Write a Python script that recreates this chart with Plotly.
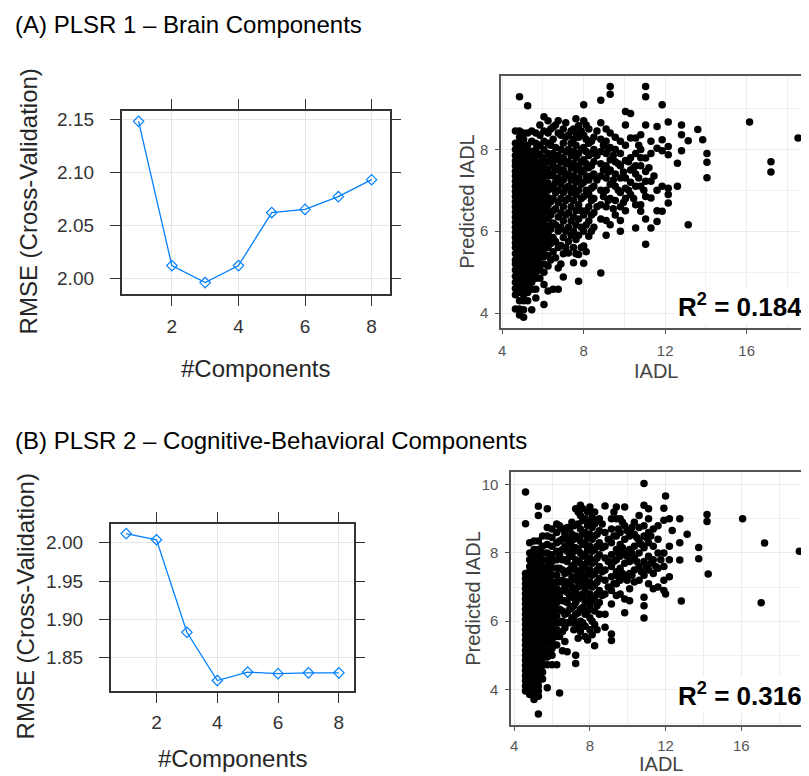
import plotly.graph_objects as go

components = [1, 2, 3, 4, 5, 6, 7, 8]
rmse_brain = [2.148, 2.012, 1.996, 2.012, 2.062, 2.065, 2.077, 2.093]
rmse_cog = [2.012, 2.004, 1.883, 1.820, 1.831, 1.829, 1.830, 1.830]

# observed IADL (one entry per column of points) and predicted IADL read for that column
iadl_brain = [4.65, 4.85, 5.05, 5.25, 5.45, 5.65, 5.85, 6.05, 6.25, 6.5, 6.75, 7.0, 7.25, 7.5,
              7.75, 8.0, 8.25, 8.5, 8.84, 9.1, 9.3, 9.55, 9.8, 10.05, 10.3, 10.55, 10.8, 11.04,
              11.3, 11.6, 11.85, 12.15, 12.6, 12.8, 13.13, 13.6, 13.84, 14.05, 16.14, 17.19, 18.52,
              6.38, 6.62, 6.88, 7.12, 7.38, 7.62, 7.88, 8.12, 8.38, 8.65, 8.97, 9.2, 9.45, 9.7,
              9.95, 10.2, 10.45, 10.7, 10.95, 11.2, 11.45]
pred_brain = [
    [4.1, 4.45, 4.6, 4.75, 4.9, 5.05, 5.2, 5.3, 5.45, 5.6, 5.72, 5.85, 5.97, 6.1, 6.22, 6.35, 6.47,
     6.6, 6.72, 6.85, 6.97, 7.1, 7.22, 7.35, 7.47, 7.6, 7.72, 7.85, 8.0, 8.15, 8.45],
    [3.95, 4.1, 4.3, 4.5, 4.62, 4.75, 4.88, 5.0, 5.12, 5.25, 5.38, 5.5, 5.62, 5.75, 5.88, 6.0, 6.12,
     6.25, 6.38, 6.5, 6.62, 6.75, 6.88, 7.0, 7.12, 7.25, 7.38, 7.5, 7.62, 7.75, 7.88, 8.0, 8.15, 8.3,
     8.45, 9.29],
    [3.9, 4.08, 4.3, 4.45, 4.58, 4.7, 4.82, 4.95, 5.08, 5.2, 5.32, 5.45, 5.58, 5.7, 5.82, 5.95, 6.08,
     6.2, 6.32, 6.45, 6.58, 6.7, 6.82, 6.95, 7.08, 7.2, 7.32, 7.45, 7.58, 7.7, 7.82, 7.95, 8.1, 8.25, 8.4],
    [4.3, 4.5, 4.65, 4.8, 4.92, 5.05, 5.18, 5.3, 5.42, 5.55, 5.68, 5.8, 5.92, 6.05, 6.18, 6.3, 6.42,
     6.55, 6.68, 6.8, 6.92, 7.05, 7.18, 7.3, 7.42, 7.55, 7.68, 7.8, 7.95, 8.1, 8.4, 9.07],
    [4.08, 4.58, 4.75, 4.9, 5.02, 5.15, 5.28, 5.4, 5.52, 5.65, 5.78, 5.9, 6.02, 6.15, 6.28, 6.4, 6.52,
     6.65, 6.78, 6.9, 7.02, 7.15, 7.28, 7.4, 7.52, 7.65, 7.8, 7.95, 8.2, 8.45],
    [4.37, 4.58, 4.85, 5.0, 5.15, 5.3, 5.42, 5.55, 5.68, 5.8, 5.92, 6.05, 6.18, 6.3, 6.42, 6.55, 6.68,
     6.8, 6.92, 7.05, 7.18, 7.3, 7.42, 7.55, 7.7, 7.85, 8.0, 8.15, 8.4],
    [4.85, 5.05, 5.2, 5.35, 5.5, 5.62, 5.75, 5.88, 6.0, 6.12, 6.25, 6.38, 6.5, 6.62, 6.75, 6.88, 7.0,
     7.12, 7.25, 7.4, 7.55, 7.7, 7.88, 8.1, 8.35, 8.6],
    [4.21, 4.7, 5.0, 5.2, 5.38, 5.55, 5.7, 5.85, 6.0, 6.15, 6.3, 6.45, 6.6, 6.75, 6.9, 7.05, 7.2, 7.35,
     7.5, 7.65, 7.8, 8.0, 8.2, 8.45, 8.8],
    [4.54, 5.15, 5.4, 5.6, 5.78, 5.95, 6.12, 6.3, 6.48, 6.65, 6.82, 7.0, 7.18, 7.35, 7.52, 7.7, 7.9,
     8.15, 8.4, 8.7],
    [4.58, 5.5, 5.85, 6.2, 6.5, 6.8, 7.1, 7.35, 7.6, 7.9, 8.25, 8.55],
    [4.58, 5.1, 5.6, 6.0, 6.35, 6.7, 7.0, 7.3, 7.55, 7.85, 8.4, 8.7],
    [4.88, 5.45, 5.85, 6.25, 6.6, 6.95, 7.25, 7.5, 7.8, 8.15, 8.5],
    [5.47, 5.75, 6.1, 6.45, 6.8, 7.1, 7.4, 7.7, 8.0, 8.35],
    [5.23, 5.6, 6.0, 6.35, 6.75, 7.05, 7.35, 7.65, 7.95, 8.25, 8.5],
    [4.78, 5.43, 5.9, 6.3, 6.65, 7.0, 7.3, 7.6, 7.9, 8.3, 8.58],
    [5.22, 5.64, 6.0, 6.4, 6.85, 7.2, 7.5, 7.75, 8.05, 8.35, 8.7, 9.09],
    [5.88, 6.25, 6.6, 6.9, 7.25, 7.55, 7.85, 8.15, 8.5],
    [6.1, 6.45, 6.8, 7.1, 7.4, 7.7, 8.0, 8.3],
    [4.98, 6.3, 6.65, 7.0, 7.35, 7.65, 7.95, 8.25, 8.65, 9.2],
    [5.9, 6.26, 6.6, 7.0, 7.3, 7.6, 7.9, 8.2, 8.5],
    [6.16, 6.8, 7.15, 7.5, 7.75, 8.05, 8.4, 9.35, 9.54],
    [6.4, 6.75, 7.1, 7.4, 7.7, 8.0, 8.3],
    [6.0, 6.26, 6.6, 6.95, 7.3, 7.6, 7.9, 8.2],
    [6.5, 6.8, 7.05, 7.3, 7.73, 8.1, 8.6, 8.93],
    [6.9, 7.2, 7.5, 7.8, 8.28, 8.88],
    [6.08, 6.65, 7.1, 7.4, 7.6, 7.9, 8.28],
    [6.49, 6.65, 7.1, 7.6, 7.8, 8.0, 8.36],
    [5.68, 6.3, 6.85, 7.22, 7.46, 7.79, 8.6, 9.29, 9.54],
    [6.08, 6.81, 7.22, 7.9, 8.2],
    [6.24, 6.5, 7.0, 8.03, 8.56],
    [6.49, 7.1, 7.97, 8.24, 9.09],
    [6.69, 6.9, 7.05, 7.87, 8.07, 8.67],
    [7.1, 7.66],
    [7.97, 8.36, 8.6],
    [6.16, 8.21],
    [8.49],
    [8.24],
    [7.31, 7.69, 7.9],
    [8.67],
    [7.45, 7.70],
    [8.28],
    [5.3, 5.7, 6.05, 6.4, 6.72, 7.05, 7.4, 7.75, 8.1, 8.5],
    [5.35, 5.75, 6.15, 6.55, 6.95, 7.2, 7.5, 7.75, 8.05, 8.6],
    [5.2, 5.65, 6.1, 6.45, 6.8, 7.15, 7.45, 7.7, 8.0, 8.35],
    [5.6, 6.0, 6.4, 6.75, 7.05, 7.35, 7.65, 7.95, 8.3, 8.65],
    [5.9, 6.25, 6.6, 6.95, 7.25, 7.55, 7.85, 8.15, 8.45],
    [5.45, 5.8, 6.15, 6.5, 6.9, 7.2, 7.5, 7.8, 8.1, 8.4, 8.75],
    [5.6, 6.1, 6.5, 6.8, 7.15, 7.45, 7.7, 8.0, 8.45],
    [5.5, 6.15, 6.5, 7.0, 7.35, 7.65, 7.95, 8.25, 8.6],
    [6.0, 6.4, 6.75, 7.05, 7.35, 7.6, 7.9, 8.2],
    [6.6, 7.25, 7.85, 8.45],
    [6.85, 7.5, 8.1],
    [6.75, 7.45, 8.0],
    [6.55, 7.25, 7.85],
    [7.0, 7.65],
    [6.7, 7.45],
    [7.0, 7.7],
    [6.8, 7.55],
    [7.3, 8.1],
    [7.0],
    [7.55],
    [7.35],
]

iadl_cog = [4.6, 4.82, 5.05, 5.28, 5.5, 5.75, 6.0, 6.25, 6.4, 6.55, 6.8, 7.05, 7.25, 7.5, 7.75,
            8.0, 8.25, 8.5, 8.8, 9.14, 9.4, 9.6, 9.84, 10.1, 10.35, 10.6, 10.86, 11.1, 11.35,
            11.6, 11.91, 12.0, 12.2, 12.35, 12.75, 12.83, 13.14, 13.75, 14.19, 14.25, 16.07,
            17.05, 17.23, 19.07,
            6.68, 6.93, 7.15, 7.38, 7.62, 7.88, 8.12, 8.38, 8.65, 8.97, 9.27, 9.5, 9.72, 9.97,
            10.22, 10.48, 10.72, 10.98, 11.22, 11.48, 11.75]
pred_cog = [
    [3.95, 4.1, 4.25, 4.4, 4.55, 4.7, 4.85, 5.0, 5.15, 5.3, 5.45, 5.6, 5.75, 5.9, 6.05, 6.2, 6.35,
     6.5, 6.65, 6.8, 6.95, 7.1, 7.25, 7.4, 8.86, 9.79],
    [3.85, 4.0, 4.15, 4.3, 4.45, 4.6, 4.75, 4.9, 5.05, 5.2, 5.35, 5.5, 5.65, 5.8, 5.95, 6.1, 6.25,
     6.4, 6.55, 6.7, 6.85, 7.0, 7.15, 7.3, 7.45, 7.6, 7.8, 8.0, 8.3],
    [3.7, 3.85, 4.0, 4.15, 4.3, 4.45, 4.6, 4.75, 4.9, 5.05, 5.2, 5.35, 5.5, 5.65, 5.8, 5.95, 6.1,
     6.25, 6.4, 6.55, 6.7, 6.85, 7.0, 7.15, 7.3, 7.45, 7.6, 7.75, 7.9, 8.1, 8.35],
    [3.28, 3.8, 3.95, 4.1, 4.25, 4.4, 4.55, 4.7, 4.85, 5.0, 5.15, 5.3, 5.45, 5.6, 5.75, 5.9, 6.05,
     6.2, 6.35, 6.5, 6.65, 6.8, 6.95, 7.1, 7.25, 7.4, 7.55, 7.7, 7.9, 8.1, 8.35, 9.1, 9.37],
    [4.3, 4.5, 4.7, 4.9, 5.05, 5.2, 5.35, 5.5, 5.65, 5.8, 5.95, 6.1, 6.25, 6.4, 6.55, 6.7, 6.85,
     7.0, 7.15, 7.3, 7.45, 7.6, 7.8, 8.0, 8.2, 8.5],
    [4.05, 4.72, 4.95, 5.15, 5.35, 5.5, 5.65, 5.8, 5.95, 6.1, 6.25, 6.4, 6.55, 6.7, 6.85, 7.0, 7.15,
     7.3, 7.45, 7.6, 7.8, 8.0, 8.25, 8.5, 8.75, 9.3],
    [4.72, 5.0, 5.2, 5.4, 5.6, 5.8, 5.95, 6.1, 6.25, 6.4, 6.55, 6.7, 6.85, 7.0, 7.15, 7.35, 7.55,
     7.75, 7.95, 8.2, 8.45, 8.7],
    [4.72, 5.3, 5.55, 5.75, 5.95, 6.15, 6.35, 6.55, 6.75, 6.95, 7.15, 7.35, 7.55, 7.8, 8.05, 8.3,
     8.6, 8.85],
    [3.89, 5.55, 5.95, 6.35, 6.75, 7.15, 7.55, 7.95, 8.35, 8.8],
    [5.13, 5.7, 6.0, 6.3, 6.6, 6.9, 7.2, 7.5, 7.8, 8.1, 8.4, 8.7],
    [5.1, 5.95, 6.25, 6.55, 6.85, 7.15, 7.45, 7.75, 8.05, 8.4, 8.75],
    [6.1, 6.4, 6.7, 7.0, 7.3, 7.6, 7.9, 8.2, 8.55, 8.9],
    [4.76, 5.0, 5.9, 6.2, 6.55, 6.85, 7.2, 7.5, 7.8, 8.15, 8.5, 9.3],
    [5.7, 6.0, 6.35, 6.7, 7.05, 7.4, 7.7, 8.0, 8.35, 8.7, 9.1, 9.4],
    [5.55, 5.85, 6.2, 6.55, 6.9, 7.25, 7.6, 7.95, 8.3, 8.6, 9.0],
    [5.75, 6.1, 6.45, 6.8, 7.15, 7.5, 7.85, 8.2, 8.55, 8.9, 9.35],
    [5.28, 5.9, 6.3, 6.7, 7.05, 7.4, 7.75, 8.1, 8.5, 8.85, 9.2],
    [6.2, 6.55, 6.9, 7.25, 7.6, 7.95, 8.3, 8.65, 9.0],
    [5.82, 6.2, 6.8, 7.2, 7.5, 7.85, 8.2, 8.6, 9.38],
    [5.43, 5.62, 6.5, 6.9, 7.3, 7.6, 7.95, 8.3, 8.7, 9.0],
    [6.75, 7.1, 7.45, 7.8, 8.1, 8.5, 9.0, 9.35],
    [6.8, 7.2, 7.55, 7.9, 8.25, 8.6, 9.0],
    [6.25, 6.65, 7.3, 7.7, 8.0, 8.4, 8.8, 9.35],
    [6.6, 6.95, 7.4, 7.75, 8.1, 8.5, 8.65],
    [7.15, 7.5, 7.85, 8.2, 8.55, 8.9],
    [7.2, 7.6, 8.0, 8.35, 8.75, 9.1],
    [6.09, 6.45, 6.7, 7.35, 7.75, 8.15, 8.5, 8.8, 9.4, 10.04],
    [7.1, 7.5, 7.9, 8.3, 8.6, 9.0, 9.3],
    [6.95, 7.4, 7.8, 8.2, 8.7],
    [7.0, 7.55, 8.0, 8.4, 8.8],
    [6.9, 7.2, 7.6, 8.0, 8.96, 9.31],
    [6.8, 9.67],
    [7.3, 7.8, 8.2, 9.0],
    [8.66],
    [7.79, 8.3, 9.0],
    [6.59],
    [8.55],
    [7.83, 8.16],
    [8.92, 9.13],
    [7.38],
    [9.0],
    [6.54],
    [8.29],
    [8.05],
    [5.4, 5.8, 6.2, 6.6, 7.0, 7.4, 7.8, 8.2, 8.55],
    [5.95, 6.35, 6.75, 7.1, 7.5, 7.9, 8.3, 8.7],
    [5.75, 6.05, 6.45, 6.85, 7.25, 7.65, 8.05, 8.4, 8.8],
    [5.5, 5.85, 6.25, 6.65, 7.0, 7.35, 7.75, 8.1, 8.45, 8.85, 9.2],
    [5.95, 6.4, 6.8, 7.2, 7.55, 7.9, 8.25, 8.55, 8.95, 9.3],
    [5.45, 6.3, 6.65, 7.05, 7.4, 7.75, 8.1, 8.45, 8.8, 9.2],
    [5.6, 6.0, 6.6, 7.0, 7.35, 7.7, 8.05, 8.4, 8.75, 9.05],
    [5.75, 6.45, 6.8, 7.15, 7.5, 7.85, 8.2, 8.55, 8.95],
    [6.75, 7.45, 8.15, 8.85],
    [7.0, 7.75, 8.4],
    [7.1, 7.75, 8.5, 9.2],
    [7.3, 8.0, 8.7],
    [7.4, 8.15, 8.9],
    [7.2, 7.9, 8.65],
    [7.35, 8.0, 8.75],
    [7.75, 8.45],
    [7.45, 8.25],
    [7.6, 8.45],
    [7.7, 8.5],
    [7.6],
    [7.8],
]


def flatten(xs, ys):
    out_x, out_y = [], []
    for x, col in zip(xs, ys):
        out_x += [x] * len(col)
        out_y += col
    return out_x, out_y


W, H = 809, 776
OFF = 8  # the page body adds an 8px margin before the figure
FONT = "Arial, Liberation Sans, sans-serif"
BLUE = "#0080ff"


def px(x):
    return (x - OFF) / W


def py(y):
    return 1 - (y - OFF) / H


fig = go.Figure()

fig.add_trace(go.Scatter(x=components, y=rmse_brain, mode="lines+markers", xaxis="x", yaxis="y",
                         line=dict(color=BLUE, width=1.3),
                         marker=dict(symbol="diamond-open", size=8, color=BLUE, line=dict(width=1.2))))
fig.add_trace(go.Scatter(x=components, y=rmse_cog, mode="lines+markers", xaxis="x3", yaxis="y3",
                         line=dict(color=BLUE, width=1.3),
                         marker=dict(symbol="diamond-open", size=8, color=BLUE, line=dict(width=1.2))))

ax, ay = flatten(iadl_brain, pred_brain)
bx, by = flatten(iadl_cog, pred_cog)
fig.add_trace(go.Scatter(x=ax, y=ay, mode="markers", xaxis="x2", yaxis="y2",
                         marker=dict(color="black", size=7.5)))
fig.add_trace(go.Scatter(x=bx, y=by, mode="markers", xaxis="x4", yaxis="y4",
                         marker=dict(color="black", size=7.5)))

lattice = dict(ticks="outside", ticklen=10, tickwidth=1.3, tickcolor="#333333",
               showline=True, linecolor="#333333", linewidth=1.5, mirror="ticks",
               showgrid=True, gridcolor="#e6e6e6", gridwidth=1, zeroline=False,
               tickfont=dict(family=FONT, size=19, color="#333333"))

gg = dict(ticks="outside", ticklen=4, tickwidth=1.2, tickcolor="#555555",
          showline=True, linecolor="#555555", linewidth=1.5,
          showgrid=True, gridcolor="#ebebeb", gridwidth=1.2, zeroline=False,
          tickfont=dict(family=FONT, size=15, color="#555555"), ticklabelstandoff=4)

fig.update_layout(
    width=W, height=H, margin=dict(l=0, r=0, t=0, b=0),
    paper_bgcolor="white", plot_bgcolor="white", showlegend=False,
    xaxis=dict(lattice, domain=[px(119), px(388)], range=[0.49, 8.54], tickvals=[2, 4, 6, 8],
               anchor="y", ticklabelstandoff=4),
    yaxis=dict(lattice, domain=[py(293), py(109)], range=[1.985, 2.158],
               tickvals=[2.00, 2.05, 2.10, 2.15], tickformat=".2f", anchor="x", ticklabelstandoff=12),
    xaxis3=dict(lattice, domain=[px(108), px(352)], range=[0.49, 8.49], tickvals=[2, 4, 6, 8],
                anchor="y3", ticklabelstandoff=3),
    yaxis3=dict(lattice, domain=[py(691), py(523)], range=[1.806, 2.025],
                tickvals=[1.85, 1.90, 1.95, 2.00], tickformat=".2f", anchor="x3", ticklabelstandoff=12),
    xaxis2=dict(gg, domain=[px(500), 1.0], range=[3.95, 19.45], tick0=0, dtick=4, mirror=True,
                minor=dict(dtick=2, showgrid=True, gridcolor="#f0f0f0", gridwidth=0.8),
                anchor="y2"),
    yaxis2=dict(gg, domain=[py(327), py(74)], range=[3.63, 9.8], tick0=0, dtick=2,
                minor=dict(dtick=1, showgrid=True, gridcolor="#f0f0f0", gridwidth=0.8),
                anchor="x2"),
    xaxis4=dict(gg, domain=[px(510), 1.0], range=[3.84, 20.0], tick0=0, dtick=4, mirror=True,
                minor=dict(dtick=2, showgrid=True, gridcolor="#f0f0f0", gridwidth=0.8),
                anchor="y4", ticklabelstandoff=2),
    yaxis4=dict(gg, domain=[py(725), py(471)], range=[2.95, 10.38], tick0=0, dtick=2,
                minor=dict(dtick=1, showgrid=True, gridcolor="#f0f0f0", gridwidth=0.8),
                anchor="x4"),
)

notes = [
    dict(text="(A) PLSR 1 – Brain Components", x=px(10), y=py(23), xanchor="left",
         font=dict(size=24, color="black")),
    dict(text="(B) PLSR 2 – Cognitive-Behavioral Components", x=px(10), y=py(440), xanchor="left",
         font=dict(size=24, color="black")),
    dict(text="RMSE (Cross-Validation)", x=px(26), y=py(200), textangle=-90,
         font=dict(size=24, color="#262626")),
    dict(text="RMSE (Cross-Validation)", x=px(23), y=py(606), textangle=-90,
         font=dict(size=24, color="#262626")),
    dict(text="#Components", x=px(253), y=py(367), font=dict(size=24, color="#262626")),
    dict(text="#Components", x=px(230), y=py(758), font=dict(size=24, color="#262626")),
    dict(text="Predicted IADL", x=px(465), y=py(200), textangle=-90,
         font=dict(size=20, color="#444444")),
    dict(text="Predicted IADL", x=px(472), y=py(598), textangle=-90,
         font=dict(size=20, color="#444444")),
    dict(text="IADL", x=px(655), y=py(370), font=dict(size=20, color="#444444")),
    dict(text="IADL", x=px(660), y=py(764), font=dict(size=20, color="#444444")),
    dict(text="<b>R<sup>2</sup> = 0.184</b>", x=px(804), y=py(304), xanchor="right",
         bgcolor="white", font=dict(size=26, color="black")),
    dict(text="<b>R<sup>2</sup> = 0.316</b>", x=px(804), y=py(694), xanchor="right",
         bgcolor="white", font=dict(size=26, color="black")),
]
for n in notes:
    n.setdefault("xanchor", "center")
    n["font"]["family"] = FONT
    fig.add_annotation(xref="paper", yref="paper", yanchor="middle", showarrow=False, **n)

fig.write_html("out.html")
